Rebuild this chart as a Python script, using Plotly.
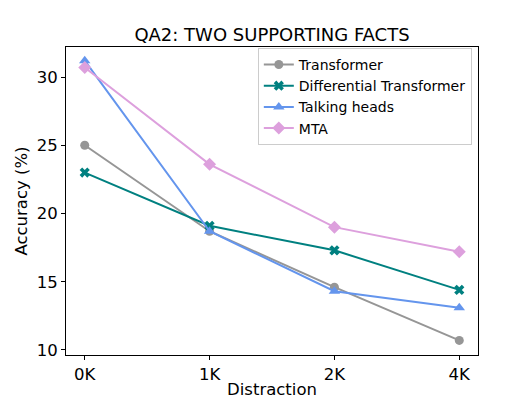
import plotly.graph_objects as go

categories = ["0K", "1K", "2K", "4K"]
transformer = [25.0, 18.7, 14.6, 10.7]
diff_transformer = [23.0, 19.1, 17.3, 14.4]
talking_heads = [31.2, 18.7, 14.3, 13.1]
mta = [30.7, 23.6, 19.0, 17.2]

series = [
    ("Transformer", transformer, "#969696", "circle", 9),
    ("Differential Transformer", diff_transformer, "#008080", "x", 9),
    ("Talking heads", talking_heads, "#6495ED", "triangle-up", 10),
    ("MTA", mta, "#DDA0DD", "diamond", 10),
]

fig = go.Figure()
xs = list(range(len(categories)))
for name, vals, color, sym, size in series:
    fig.add_trace(go.Scatter(
        x=xs, y=vals, name=name, mode="lines+markers",
        line=dict(color=color, width=2),
        marker=dict(symbol=sym, size=size, color=color, line=dict(width=0)),
    ))

fig.update_layout(
    width=523, height=391,
    margin=dict(l=58, r=53, t=39, b=44, autoexpand=False),
    paper_bgcolor="white", plot_bgcolor="white",
    font=dict(family="DejaVu Sans", color="black"),
    title=dict(text="QA2: TWO SUPPORTING FACTS", x=0.5, xref="paper", xanchor="center",
               y=0.915, yanchor="bottom", font=dict(size=18)),
    showlegend=True,
    legend=dict(x=0.985, y=0.997, xanchor="right", yanchor="top",
                bordercolor="#cccccc", borderwidth=1, bgcolor="rgba(255,255,255,0.8)",
                font=dict(size=14), tracegroupgap=0, itemwidth=30),
    xaxis=dict(
        tickmode="array", tickvals=xs, ticktext=categories,
        range=[-0.15, 3.15], showgrid=False, zeroline=False,
        showline=True, linecolor="black", linewidth=1, mirror=True,
        ticks="outside", ticklen=4, tickcolor="black",
        tickfont=dict(size=16.5), automargin=False,
        title=dict(text="Distraction", font=dict(size=16.5), standoff=0),
    ),
    yaxis=dict(
        range=[9.63, 32.2], tickvals=[10, 15, 20, 25, 30],
        showgrid=False, zeroline=False,
        showline=True, linecolor="black", linewidth=1, mirror=True,
        ticks="outside", ticklen=4, tickcolor="black",
        tickfont=dict(size=16.5), automargin=False,
        title=dict(text="Accuracy (%)", font=dict(size=16.5), standoff=4),
    ),
)

fig.write_html("out.html")
